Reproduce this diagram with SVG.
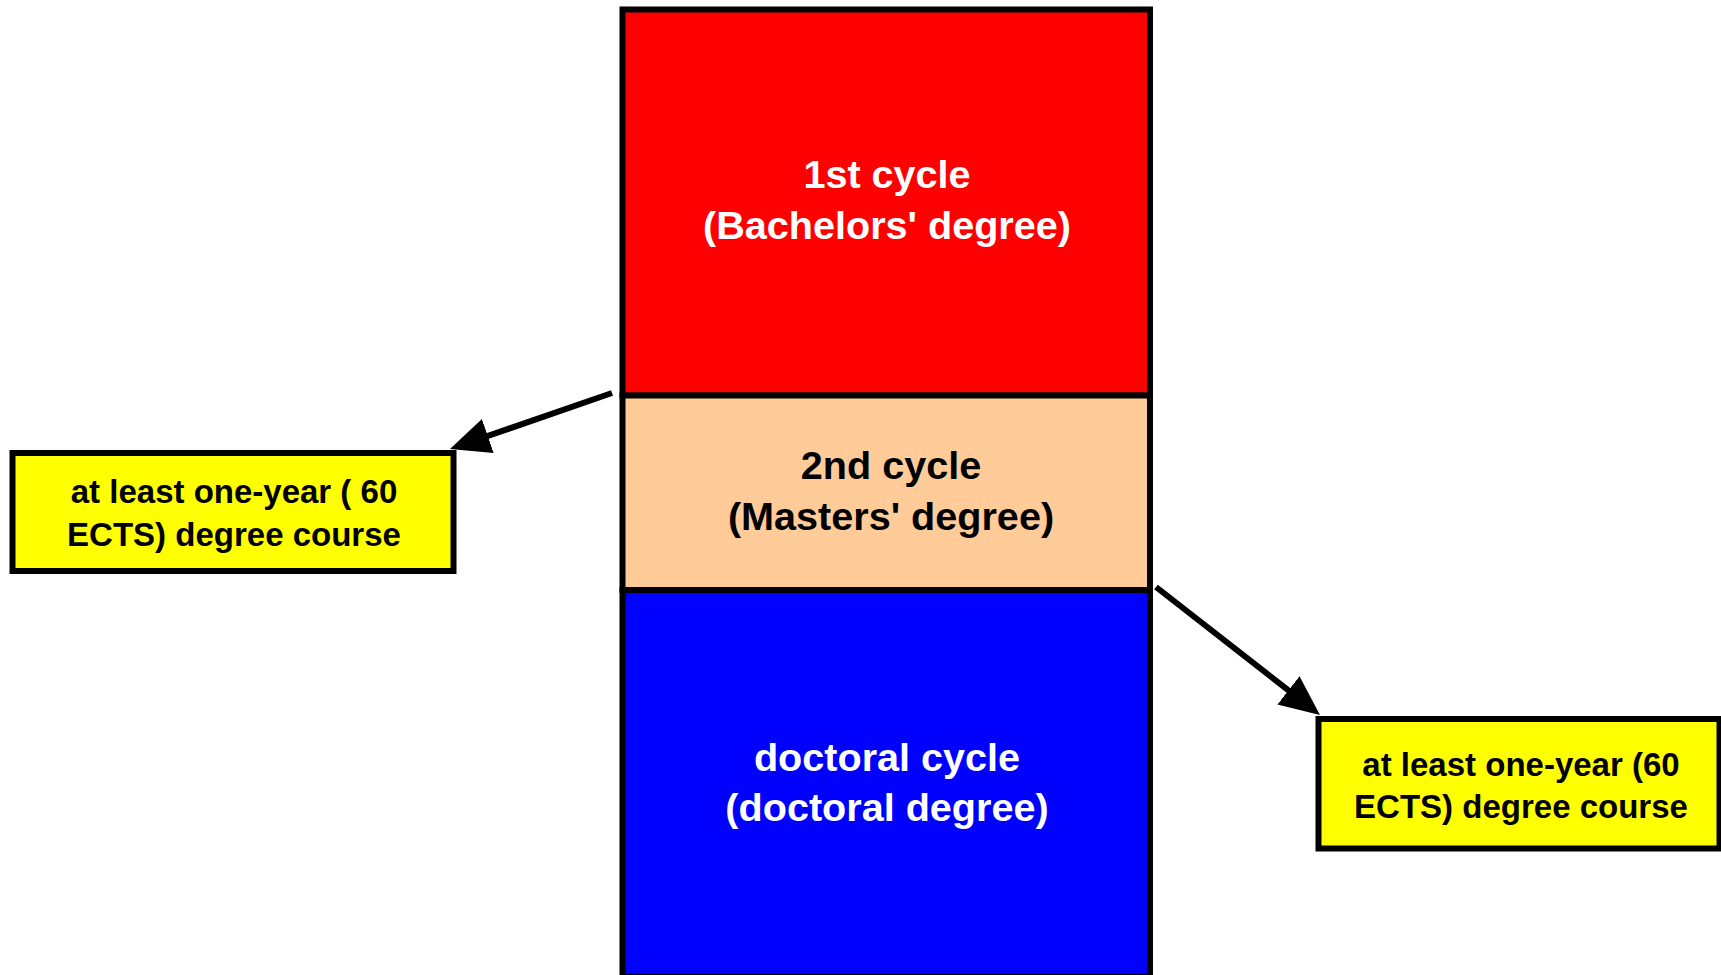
<svg xmlns="http://www.w3.org/2000/svg" width="1721" height="975" viewBox="0 0 1721 975">
  <style>
    .box { stroke: #000; stroke-width: 6; }
    .lbl { font-family: "Liberation Sans", Arial, sans-serif; font-weight: bold; text-anchor: middle; }
    .big { font-size: 39.6px; }
    .small { font-size: 33px; fill: #000; }
    .conn { stroke: #000; stroke-width: 6; fill: none; }
  </style>
  <defs>
    <marker id="arrow" markerUnits="userSpaceOnUse" markerWidth="42" markerHeight="38" refX="20" refY="18" orient="auto" viewBox="0 0 42 38">
      <path d="M0,0 L40,18 L0,36 z" fill="#000"/>
    </marker>
  </defs>

  <rect width="1721" height="975" fill="#fff"/>

  <g id="cycle1">
    <rect class="box" x="622.5" y="9.5" width="527.5" height="386" fill="#ff0000"/>
    <text class="lbl big" fill="#fff" x="887" y="188">1st cycle</text>
    <text class="lbl big" fill="#fff" x="887" y="238.5">(Bachelors' degree)</text>
  </g>

  <g id="cycle2">
    <rect class="box" x="622.5" y="395.5" width="527.5" height="194.5" fill="#ffcc99"/>
    <text class="lbl big" fill="#000" x="891" y="479">2nd cycle</text>
    <text class="lbl big" fill="#000" x="891" y="530">(Masters' degree)</text>
  </g>

  <g id="cycle3">
    <rect class="box" x="622.5" y="590" width="527.5" height="387" fill="#0000ff"/>
    <text class="lbl big" fill="#fff" x="887" y="771">doctoral cycle</text>
    <text class="lbl big" fill="#fff" x="887" y="821">(doctoral degree)</text>
  </g>

  <g id="noteLeft">
    <rect class="box" x="12.5" y="453" width="441" height="118" fill="#ffff00"/>
    <text class="lbl small" x="234" y="503">at least one-year ( 60</text>
    <text class="lbl small" x="234" y="546">ECTS) degree course</text>
  </g>

  <g id="noteRight">
    <rect class="box" x="1318.5" y="719" width="401" height="129.5" fill="#ffff00"/>
    <text class="lbl small" x="1521" y="776">at least one-year (60</text>
    <text class="lbl small" x="1521" y="818">ECTS) degree course</text>
  </g>

  <g id="connectors">
    <line class="conn" x1="612" y1="393" x2="468.9" y2="442.5" marker-end="url(#arrow)"/>
    <line class="conn" x1="1156" y1="587" x2="1304.2" y2="702.7" marker-end="url(#arrow)"/>
  </g>
</svg>
